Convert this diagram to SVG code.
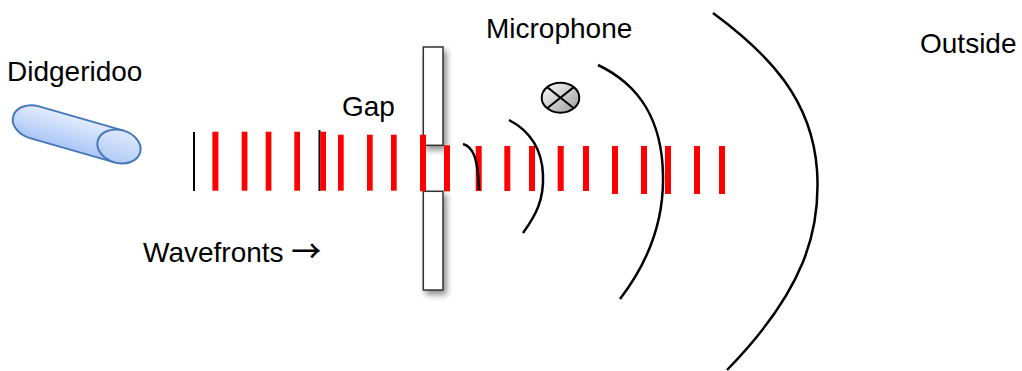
<svg xmlns="http://www.w3.org/2000/svg" width="1022" height="371" viewBox="0 0 1022 371">
  <style>
    .label { font-family: "Liberation Sans", Arial, sans-serif; font-size: 28px; fill: #000; }
    .arrow { font-family: "Noto Sans CJK SC", "DejaVu Sans", sans-serif; font-size: 30px; font-weight: 500; }
    .bar { fill: #ff0000; }
    .front { fill: none; stroke: #000; stroke-width: 2.5; stroke-linecap: butt; }
    .plate { fill: #fff; stroke: #333; stroke-width: 1.5; filter: url(#shadow); }
    .pipe { stroke: #4677b8; stroke-width: 2; }
  </style>
  <defs>
    <linearGradient id="pipeFill" x1="0" y1="0" x2="0" y2="1">
      <stop offset="0" stop-color="#e3ecfd"/>
      <stop offset="1" stop-color="#a9c6f6"/>
    </linearGradient>
    <linearGradient id="capFill" x1="0" y1="0" x2="0" y2="1">
      <stop offset="0" stop-color="#dfe9fc"/>
      <stop offset="1" stop-color="#b0cbf6"/>
    </linearGradient>
    <linearGradient id="micFill" x1="0" y1="0" x2="1" y2="1">
      <stop offset="0" stop-color="#ffffff"/>
      <stop offset="1" stop-color="#9a9a9a"/>
    </linearGradient>
    <filter id="shadow" x="-50%" y="-20%" width="220%" height="140%">
      <feGaussianBlur in="SourceAlpha" stdDeviation="3"/>
      <feOffset dx="3" dy="4" result="blur"/>
      <feComponentTransfer><feFuncA type="linear" slope="0.45"/></feComponentTransfer>
      <feMerge><feMergeNode/><feMergeNode in="SourceGraphic"/></feMerge>
    </filter>
  </defs>

  <!-- Didgeridoo: a tilted cylinder -->
  <g id="didgeridoo">
    <g transform="translate(119,146.5) rotate(16)">
      <path class="pipe" fill="url(#pipeFill)" d="M0,-16.5 L-88,-16.5 A22,16.5 0 0 0 -88,16.5 L0,16.5 Z"/>
      <ellipse class="pipe" fill="url(#capFill)" cx="0" cy="0" rx="22" ry="16.5"/>
    </g>
    <text class="label" x="7" y="81">Didgeridoo</text>
  </g>

  <!-- Wall with a gap -->
  <g id="wall">
    <rect class="plate" x="423.3" y="47" width="19.7" height="98.3"/>
    <rect class="plate" x="423.3" y="191.3" width="19.7" height="98.7"/>
    <text class="label" x="342" y="116">Gap</text>
  </g>

  <!-- Microphone -->
  <g id="microphone">
    <ellipse cx="560.5" cy="97.7" rx="18.8" ry="15" fill="url(#micFill)" stroke="#000" stroke-width="2"/>
    <path d="M547.2,87.1 L573.8,108.3 M573.8,87.1 L547.2,108.3" stroke="#000" stroke-width="2"/>
    <text class="label" x="486" y="38">Microphone</text>
  </g>

  <g id="outside">
    <text class="label" x="920" y="53">Outside</text>
  </g>

  <g id="wavefront-label">
    <text class="label" x="143" y="262">Wavefronts <tspan class="arrow">→</tspan></text>
  </g>

  <!-- Plane wavefronts (black) and pressure pulses (red) -->
  <g id="connectors">
    <line x1="194" y1="132" x2="194" y2="191" stroke="#000" stroke-width="2"/>
    <line x1="319.5" y1="130" x2="319.5" y2="191" stroke="#000" stroke-width="2"/>

    <rect class="bar" x="212.4" y="131.7" width="6" height="59"/>
    <rect class="bar" x="241.7" y="131.7" width="5.7" height="59"/>
    <rect class="bar" x="265.7" y="131.7" width="5.7" height="59"/>
    <rect class="bar" x="294.3" y="131.7" width="5.7" height="59"/>
    <rect class="bar" x="320.3" y="131.7" width="5.7" height="59"/>
    <rect class="bar" x="338" y="134.7" width="5.7" height="56"/>
    <rect class="bar" x="367" y="134.7" width="5.7" height="56"/>
    <rect class="bar" x="391" y="134.7" width="5.7" height="56"/>
    <rect class="bar" x="420" y="134.7" width="6" height="56.6"/>
    <rect class="bar" x="444" y="145.3" width="6" height="46"/>
    <rect class="bar" x="475.7" y="146" width="6" height="45"/>
    <rect class="bar" x="504.3" y="146" width="6" height="45"/>
    <rect class="bar" x="529" y="146" width="6" height="45"/>
    <rect class="bar" x="557.7" y="146" width="6" height="45"/>
    <rect class="bar" x="583" y="146" width="6" height="45"/>
    <rect class="bar" x="612" y="146" width="6" height="48"/>
    <rect class="bar" x="641" y="146" width="6" height="48"/>
    <rect class="bar" x="665" y="146" width="6" height="48"/>
    <rect class="bar" x="694" y="146" width="6" height="48"/>
    <rect class="bar" x="719" y="146" width="6" height="48"/>

    <!-- Spreading wavefronts beyond the gap -->
    <path class="front" stroke-width="2" d="M463,144 C474,147 478,160 479,190"/>
    <path class="front" d="M509,120 C530,131 542,148 543,175 C544,200 536,215 523,233"/>
    <path class="front" d="M598,65 C640,85 662,120 663,175 C664,220 650,260 620,299"/>
    <path class="front" d="M713,13 C770,55 812,100 817,170 C821,230 805,290 727,370"/>
  </g>
</svg>
